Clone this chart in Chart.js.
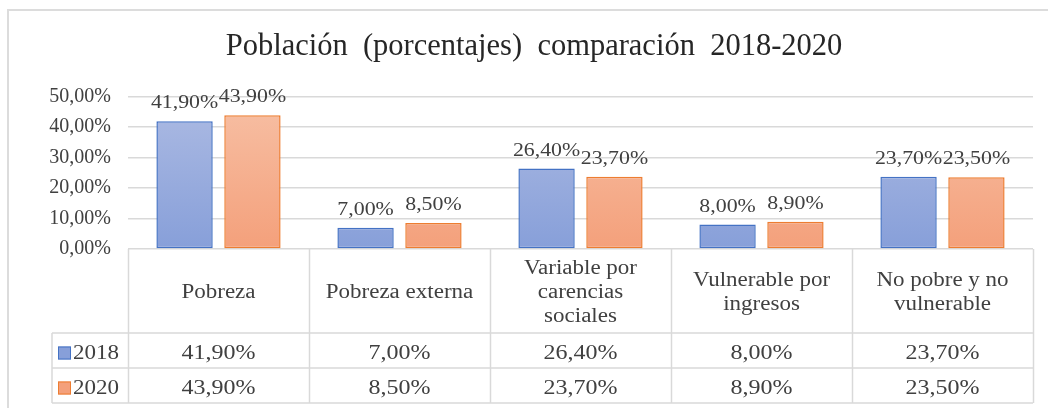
<!DOCTYPE html>
<html>
<head>
<meta charset="utf-8">
<script src="https://cdn.jsdelivr.net/npm/chart.js@4.4.1/dist/chart.umd.min.js"></script>
<style>
    html, body { margin: 0; padding: 0; background: #fff; }
    #wrap { width: 1048px; height: 408px; }
</style>
</head>
<body>
<div id="wrap"><canvas id="myChart" width="1048" height="408"></canvas></div>
<script>
// datos
var categorias = [
    ['Pobreza'],
    ['Pobreza externa'],
    ['Variable por', 'carencias', 'sociales'],
    ['Vulnerable por', 'ingresos'],
    ['No pobre y no', 'vulnerable']
];
var series = ['2018', '2020'];
var valores2018 = [41.9, 7.0, 26.4, 8.0, 23.7];
var valores2020 = [43.9, 8.5, 23.7, 8.9, 23.5];
var ticksY = [0, 10, 20, 30, 40, 50];

var FUENTE = '"Liberation Serif", "DejaVu Serif", serif';
var TEXTO = '#404040';
var LINEA = '#d9d9d9';

var formato = function (v) {
    return v.toFixed(2).replace('.', ',') + '%';
}

var degradado = function (ctx, arriba, abajo) {
    var chart = ctx.chart;
    var area = chart.chartArea;
    if (!area) {
        return abajo;
    }
    var g = chart.ctx.createLinearGradient(0, area.top, 0, area.bottom);
    g.addColorStop(0, arriba);
    g.addColorStop(1, abajo);
    return g;
}

// texto algo ensanchado, como en la imagen original
var texto = function (c, t, x, y, sx) {
    c.save();
    c.translate(x, y);
    c.scale(sx, 1);
    c.fillText(t, 0, 0);
    c.restore();
}

// marco exterior
var marco = {
    id: 'marco',
    beforeDraw: function (chart) {
        var c = chart.ctx;
        c.save();
        c.strokeStyle = '#dcdcdc';
        c.lineWidth = 2;
        c.beginPath();
        c.moveTo(1048, 10);
        c.lineTo(8, 10);
        c.lineTo(8, 408);
        c.stroke();
        c.restore();
    }
};

// etiquetas de valor sobre las barras
var etiquetas = {
    id: 'etiquetas',
    afterDatasetsDraw: function (chart) {
        var c = chart.ctx;
        c.save();
        c.font = '19px ' + FUENTE;
        c.fillStyle = TEXTO;
        c.textAlign = 'center';
        c.textBaseline = 'middle';
        chart.data.datasets.forEach(function (ds, i) {
            chart.getDatasetMeta(i).data.forEach(function (bar, j) {
                texto(c, formato(ds.data[j]), bar.x, bar.y - 18, 1.15);
            });
        });
        c.restore();
    }
};

// tabla de datos debajo del eje
var tabla = {
    id: 'tabla',
    afterDraw: function (chart) {
        var c = chart.ctx;
        var x = chart.scales.x;
        var area = chart.chartArea;
        var n = categorias.length;
        var ancho = (area.right - area.left) / n;
        var y0 = area.bottom;
        var y1 = y0 + 84;
        var y2 = y1 + 35;
        var y3 = y2 + 35;
        var izq = 52;
        c.save();
        c.strokeStyle = LINEA;
        c.lineWidth = 1.5;
        c.beginPath();
        for (var i = 0; i <= n; i++) {
            var xl = Math.round(area.left + ancho * i) + 0.5;
            c.moveTo(xl, y0);
            c.lineTo(xl, y3);
        }
        c.moveTo(izq, y1);
        c.lineTo(izq, y3);
        [y1, y2, y3].forEach(function (yy) {
            c.moveTo(izq, yy);
            c.lineTo(area.right, yy);
        });
        c.stroke();

        c.fillStyle = TEXTO;
        c.textAlign = 'center';
        c.textBaseline = 'middle';
        c.font = '20px ' + FUENTE;
        var alto = 24;
        categorias.forEach(function (lineas, i) {
            var cx = x.getPixelForValue(i);
            var cy = (y0 + y1) / 2 + 2 - (lineas.length - 1) * alto / 2;
            lineas.forEach(function (t, k) {
                texto(c, t, cx, cy + k * alto, 1.15);
            });
        });
        var filas = [[valores2018, y1, y2], [valores2020, y2, y3]];
        filas.forEach(function (f, r) {
            var cy = (f[1] + f[2]) / 2 + 3;
            c.font = '20px ' + FUENTE;
            c.fillStyle = TEXTO;
            c.textAlign = 'center';
            f[0].forEach(function (v, i) {
                texto(c, formato(v), x.getPixelForValue(i), cy, 1.2);
            });
            var ds = chart.data.datasets[r];
            c.fillStyle = degradado({ chart: chart }, ds.colorArriba, ds.colorAbajo);
            c.fillRect(58, cy - 7, 13, 13);
            c.strokeStyle = ds.borderColor;
            c.lineWidth = 1;
            c.strokeRect(58.5, cy - 6.5, 12, 12);
            c.fillStyle = TEXTO;
            c.textAlign = 'left';
            texto(c, series[r], 73, cy, 1.15);
        });
        c.restore();
    }
};

var ctx = document.getElementById('myChart');
var myChart = new Chart(ctx, {
    type: 'bar',
    data: {
        labels: categorias.map(function (l) { return l.join(' '); }),
        datasets: [
            {
                label: series[0],
                data: valores2018,
                colorArriba: '#adbbe3',
                colorAbajo: '#879fd9',
                backgroundColor: function (c) { return degradado(c, '#adbbe3', '#879fd9'); },
                borderColor: '#4472c4',
                borderWidth: 1.5,
                borderSkipped: false
            },
            {
                label: series[1],
                data: valores2020,
                colorArriba: '#f7c0a5',
                colorAbajo: '#f4a07b',
                backgroundColor: function (c) { return degradado(c, '#f7c0a5', '#f4a07b'); },
                borderColor: '#ed7d31',
                borderWidth: 1.5,
                borderSkipped: false
            }
        ]
    },
    plugins: [marco, etiquetas, tabla],
    options: {
        responsive: false,
        animation: false,
        devicePixelRatio: 1,
        layout: {
            padding: { left: 35, right: 15, top: 0, bottom: 159 }
        },
        datasets: {
            bar: { barPercentage: 0.83, categoryPercentage: 0.75 }
        },
        plugins: {
            legend: { display: false },
            tooltip: { enabled: false },
            title: {
                display: true,
                text: 'Población  (porcentajes)  comparación  2018-2020',
                color: '#262626',
                font: { family: FUENTE, size: 30.5, weight: 'normal', lineHeight: 1.2 },
                padding: { top: 29, bottom: 31 }
            }
        },
        scales: {
            x: {
                display: false
            },
            y: {
                min: ticksY[0],
                max: ticksY[ticksY.length - 1],
                afterFit: function (scale) { scale.width = 93; },
                afterBuildTicks: function (scale) {
                    scale.ticks = ticksY.map(function (v) { return { value: v }; });
                },
                border: { display: false },
                grid: { color: LINEA, lineWidth: 1.5, drawTicks: false },
                ticks: {
                    padding: 17,
                    color: TEXTO,
                    font: { family: FUENTE, size: 20 },
                    callback: function (v) { return formato(v); }
                }
            }
        }
    }
});
</script>
</body>
</html>
